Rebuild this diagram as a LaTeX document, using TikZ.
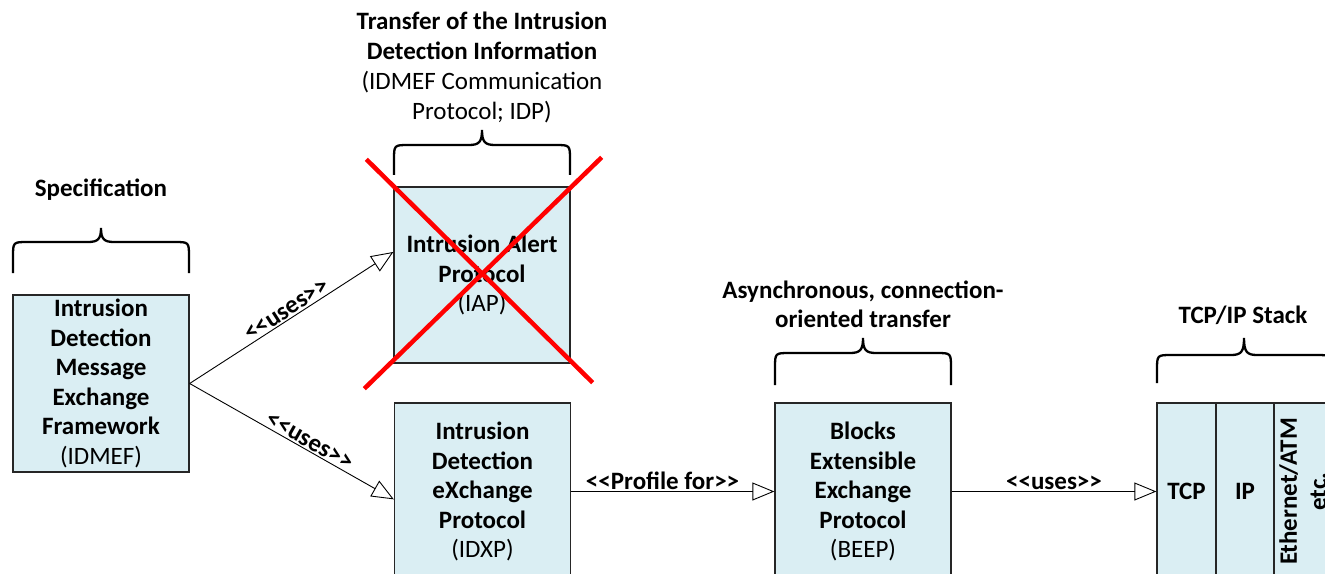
\documentclass[tikz,border=0pt]{standalone}
\usepackage{fontspec}
\setmainfont{Carlito}[Ligatures=TeXOff]
\usetikzlibrary{arrows.meta,calc}
\definecolor{boxfill}{HTML}{DAEEF3}
\definecolor{boxline}{HTML}{262626}
\definecolor{xred}{HTML}{FF0000}
\newcommand\mybrace[5]{%
 \pgfmathsetmacro\bxm{(#1+#2)/2}%
 \draw[bracestyle] (#1,#3) -- (#1,#4+15) .. controls (#1,#4) .. (#1+15,#4) -- (\bxm-13,#4) .. controls (\bxm-3,#4) and (\bxm,#4-3) .. (\bxm,#5) .. controls (\bxm,#4-3) and (\bxm+3,#4) .. (\bxm+13,#4) -- (#2-15,#4) .. controls (#2,#4) .. (#2,#4+15) -- (#2,#3);}
\tikzset{
  boxstyle/.style={draw=boxline, line width=1.3bp, fill=boxfill, minimum width=176bp, minimum height=177bp, align=center, inner sep=0pt, font=\bfseries\fontsize{25bp}{29.5bp}\selectfont},
  cellstyle/.style={boxstyle, minimum width=58bp},
  conn/.style={draw=black, line width=0.9bp, -{Triangle[open,length=22bp,width=18bp]}},
  lab/.style={font=\bfseries\fontsize{25bp}{29.5bp}\selectfont, inner sep=1.5bp},
  titlestyle/.style={align=center, font=\fontsize{25bp}{30bp}\selectfont, inner sep=0pt},
  bracestyle/.style={draw=black, line width=2.3bp},
  xstyle/.style={draw=xred, line width=4.5bp}
}
\begin{document}
\begin{tikzpicture}[x=1bp,y=-1bp]
\useasboundingbox (0,0) rectangle (1325,574);
\clip (0,0) rectangle (1325,574);
\fill[white] (0,0) rectangle (1325,574);

% boxes
\node[boxstyle] (IDMEF) at (101,383.5) {Intrusion\\Detection\\Message\\Exchange\\Framework\\{\mdseries (IDMEF)}};
\node[boxstyle, minimum height=176bp] (IAP) at (482,275) {Intrusion Alert\\Protocol\\{\mdseries (IAP)}};
\node[boxstyle] (IDXP) at (482.5,491.5) {Intrusion\\Detection\\eXchange\\Protocol\\{\mdseries (IDXP)}};
\node[boxstyle] (BEEP) at (863,491.5) {Blocks\\Extensible\\Exchange\\Protocol\\{\mdseries (BEEP)}};
\node[cellstyle, minimum width=59bp] (TCP) at (1186.5,491.5) {TCP};
\node[cellstyle] (IP) at (1245,491.5) {IP};
\node[boxstyle, minimum width=177bp, minimum height=58bp, rotate=90] (ETH) at (1303,491.5) {Ethernet/ATM\\etc.};

% titles
\node[titlestyle, font=\bfseries\fontsize{25bp}{30bp}\selectfont] (spec) at (101,190) {Specification};
\node[titlestyle] (idp) at (482,67) {\textbf{Transfer of the Intrusion}\\\textbf{Detection Information}\\(IDMEF Communication\\Protocol; IDP)};
\node[titlestyle, font=\bfseries\fontsize{25bp}{29.5bp}\selectfont] (async) at (863,304.5) {Asynchronous, connection-\\oriented transfer};
\node[titlestyle, font=\bfseries\fontsize{25bp}{30bp}\selectfont] (stack) at (1243,315) {TCP/IP Stack};

% braces
\mybrace{13}{189}{273}{242}{228}
\mybrace{394}{570}{175}{145}{130}
\mybrace{775}{951}{385}{353}{338}
\mybrace{1157}{1331}{383}{355}{338}

% red cross
\draw[xstyle] ($(IAP.north west)+(-27,-27)$) -- ($(IAP.south east)+(22,19)$);
\draw[xstyle] ($(IAP.north east)+(31,-29)$) -- ($(IAP.south west)+(-29,25)$);

% connectors
\draw[conn] (IDMEF.east) -- node[lab, sloped, above, midway] {<<uses>>} ($(IAP.north west)!0.37!(IAP.south west)$);
\draw[conn] (IDMEF.east) -- node[lab, sloped, above, pos=0.566] {<<uses>>} ($(IDXP.north west)+(0,97)$);
\draw[conn] (IDXP.east) -- node[lab, above, pos=0.45] {<<Profile for>>} (BEEP.west);
\draw[conn] (BEEP.east) -- node[lab, above, midway] {<<uses>>} (TCP.west);
\end{tikzpicture}
\end{document}
